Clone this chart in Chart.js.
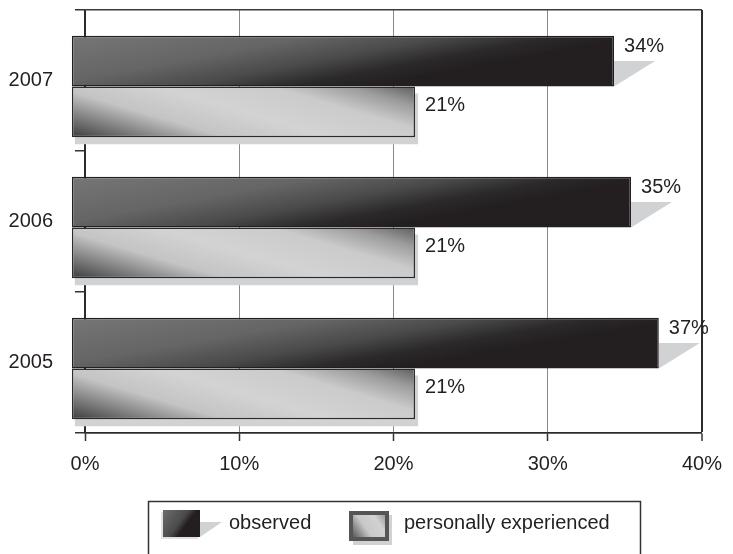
<!DOCTYPE html>
<html>
<head>
<meta charset="utf-8">
<script src="https://cdn.jsdelivr.net/npm/chart.js@4.4.1/dist/chart.umd.min.js"></script>
<style>
  html, body { margin: 0; padding: 0; background: #fff; }
  #wrap { width: 733px; height: 554px; position: relative; }
</style>
</head>
<body>
<div id="wrap"><canvas id="surveyChart"></canvas></div>
<script>
const years = ['2007', '2006', '2005'];
const observed = [34.3, 35.4, 37.2];
const experienced = [21.4, 21.4, 21.4];
const seriesNames = ['observed', 'personally experienced'];
const xTicks = [0, 10, 20, 30, 40];

const INK = '#231f20';
const FONT = '"Liberation Sans", Arial, sans-serif';
const BAR_BASE = -0.85;   // bars start a little left of the axis (3d look)
const BAR_SHIFT = 6;      // and sit a few px lower than the category centre
const CAT_PCT = 0.72;

// bar rectangle worked out from the scales (un-shifted coords)
function barBox(c) {
  const x = c.chart.scales.x, y = c.chart.scales.y;
  if (!x || !y || !y.height || typeof c.raw !== 'number') return null;
  const center = y.getPixelForValue(c.dataIndex);
  const thick = y.height / years.length * CAT_PCT / 2;
  const top = c.datasetIndex === 0 ? center - thick : center;
  const box = { left: x.getPixelForValue(BAR_BASE), right: x.getPixelForValue(c.raw), top: top, bottom: top + thick };
  const ok = [box.left, box.right, box.top, box.bottom].every(Number.isFinite) && box.right > box.left && thick > 0;
  return ok ? box : null;
}

function darkFill(c) {
  const b = barBox(c);
  if (!b) return '#444';
  const L = b.right - b.left, h = b.bottom - b.top;
  const t = (L * h * 1.5) / (h * h + L * L / 4);
  const g = c.chart.ctx.createLinearGradient(b.left, b.top, b.left + t * h, b.top + t * L / 2);
  g.addColorStop(0, '#767676');
  g.addColorStop(0.3, '#656565');
  g.addColorStop(0.47, '#4a4a4a');
  g.addColorStop(0.6, '#2b292a');
  g.addColorStop(0.7, INK);
  g.addColorStop(1, INK);
  return g;
}

function lightFill(c) {
  const b = barBox(c);
  if (!b) return '#ccc';
  const L = b.right - b.left, h = b.bottom - b.top;
  const t = (L * h * 1.5) / (h * h + L * L / 4);
  const g = c.chart.ctx.createLinearGradient(b.left, b.bottom, b.left + t * h, b.bottom - t * L / 2);
  g.addColorStop(0, '#3c3c3c');
  g.addColorStop(0.13, '#777777');
  g.addColorStop(0.3, '#c4c4c4');
  g.addColorStop(0.5, '#d3d3d3');
  g.addColorStop(0.72, '#cbcbcb');
  g.addColorStop(0.87, '#9c9c9c');
  g.addColorStop(1, '#5e5e5e');
  return g;
}

const barShadows = {
  id: 'barShadows',
  beforeDatasetsDraw(chart) {
    const ctx = chart.ctx;
    ctx.save();
    ctx.translate(0, BAR_SHIFT);
    ctx.fillStyle = '#d1d2d4';
    chart.data.datasets.forEach((ds, di) => {
      chart.getDatasetMeta(di).data.forEach(el => {
        const p = el.getProps(['x', 'y', 'base', 'height'], true);
        const top = p.y - p.height / 2, bottom = p.y + p.height / 2;
        ctx.beginPath();
        if (di === 0) {
          ctx.moveTo(p.x, p.y);
          ctx.lineTo(p.x + 41, p.y);
          ctx.lineTo(p.x, bottom);
        } else {
          ctx.rect(p.base + 3, top + 7, p.x - p.base, p.height);
        }
        ctx.fill();
      });
    });
  },
  afterDatasetsDraw(chart) {
    const ctx = chart.ctx;
    ctx.fillStyle = INK;
    ctx.font = '20px ' + FONT;
    ctx.textAlign = 'left';
    ctx.textBaseline = 'middle';
    chart.data.datasets.forEach((ds, di) => {
      chart.getDatasetMeta(di).data.forEach((el, i) => {
        const p = el.getProps(['x', 'y', 'height'], true);
        const top = p.y - p.height / 2;
        ctx.fillText(Math.round(ds.data[i]) + '%', p.x + 10, top + (di === 0 ? 11 : 19));
      });
    });
    ctx.restore();
  }
};

const legendBox = {
  id: 'legendBox',
  afterDraw(chart) {
    const ctx = chart.ctx;
    ctx.save();
    ctx.strokeStyle = '#333';
    ctx.lineWidth = 1.5;
    ctx.strokeRect(148.5, 501.5, 492, 70);

    // observed swatch
    ctx.fillStyle = '#e2e2e2';
    ctx.fillRect(161, 512, 37, 27);
    ctx.fillStyle = '#d1d2d4';
    ctx.beginPath();
    ctx.moveTo(200, 522); ctx.lineTo(222, 522); ctx.lineTo(200, 537);
    ctx.fill();
    let g = ctx.createLinearGradient(163, 510, 200, 537);
    g.addColorStop(0, '#6e6e6e');
    g.addColorStop(0.45, '#4a4a4a');
    g.addColorStop(0.6, INK);
    g.addColorStop(1, INK);
    ctx.fillStyle = g;
    ctx.fillRect(163, 510, 37, 27);

    // personally experienced swatch
    ctx.fillStyle = '#d1d2d4';
    ctx.fillRect(353, 515, 39, 30);
    ctx.fillStyle = '#555';
    ctx.fillRect(349, 511, 40, 30);
    g = ctx.createLinearGradient(353, 537, 385, 515);
    g.addColorStop(0, '#5a5a5a');
    g.addColorStop(0.4, '#c8c8c8');
    g.addColorStop(0.75, '#d2d2d2');
    g.addColorStop(1, '#9a9a9a');
    ctx.fillStyle = g;
    ctx.fillRect(353, 515, 32, 22);

    ctx.fillStyle = INK;
    ctx.font = '20px ' + FONT;
    ctx.textAlign = 'left';
    ctx.textBaseline = 'middle';
    ctx.fillText(chart.data.datasets[0].label, 229, 523);
    ctx.fillText(chart.data.datasets[1].label, 404, 523);
    ctx.restore();
  }
};

new Chart(document.getElementById('surveyChart'), {
  type: 'bar',
  data: {
    labels: years,
    datasets: [
      { label: seriesNames[0], data: observed, backgroundColor: darkFill, borderColor: INK,
        borderWidth: 1.5, borderSkipped: false, base: BAR_BASE, clip: false },
      { label: seriesNames[1], data: experienced, backgroundColor: lightFill, borderColor: '#2b2b2b',
        borderWidth: 1.5, borderSkipped: false, base: BAR_BASE, clip: false }
    ]
  },
  options: {
    indexAxis: 'y',
    responsive: true,
    maintainAspectRatio: false,
    animation: false,
    events: [],
    categoryPercentage: CAT_PCT,
    barPercentage: 1,
    layout: { padding: { top: 10, right: 30, bottom: 76, left: 0 } },
    plugins: { legend: { display: false }, tooltip: { enabled: false } },
    scales: {
      x: {
        min: 0,
        max: 40,
        afterBuildTicks: s => { s.ticks = xTicks.map(v => ({ value: v })); },
        afterFit: s => { s.height = 45; s.paddingLeft = 0; },
        ticks: { padding: 11, color: INK, font: { size: 20, family: FONT }, callback: v => v + '%' },
        grid: {
          color: c => (c.tick && (c.tick.value === 40 || c.tick.value === 0)) ? '#2b2b2b' : '#8a8a8a',
          lineWidth: c => (c.tick && c.tick.value === 40) ? 2 : 1,
          tickLength: 8,
          tickColor: '#333',
          tickWidth: 1.5
        },
        border: { color: '#2b2b2b', width: 1.5 }
      },
      y: {
        afterFit: s => { s.width = 85; s.paddingTop = 0; s.paddingBottom = 0; },
        ticks: { padding: 22, color: INK, font: { size: 20, family: FONT } },
        grid: {
          offset: true,
          color: c => (c.index === 0 || c.index === undefined) ? '#3a3a3a' : 'transparent',
          lineWidth: 1.5,
          tickLength: 10,
          tickColor: '#333',
          tickWidth: 1.5
        },
        border: { color: '#2b2b2b', width: 1.5 }
      }
    }
  },
  plugins: [barShadows, legendBox]
});
</script>
</body>
</html>
